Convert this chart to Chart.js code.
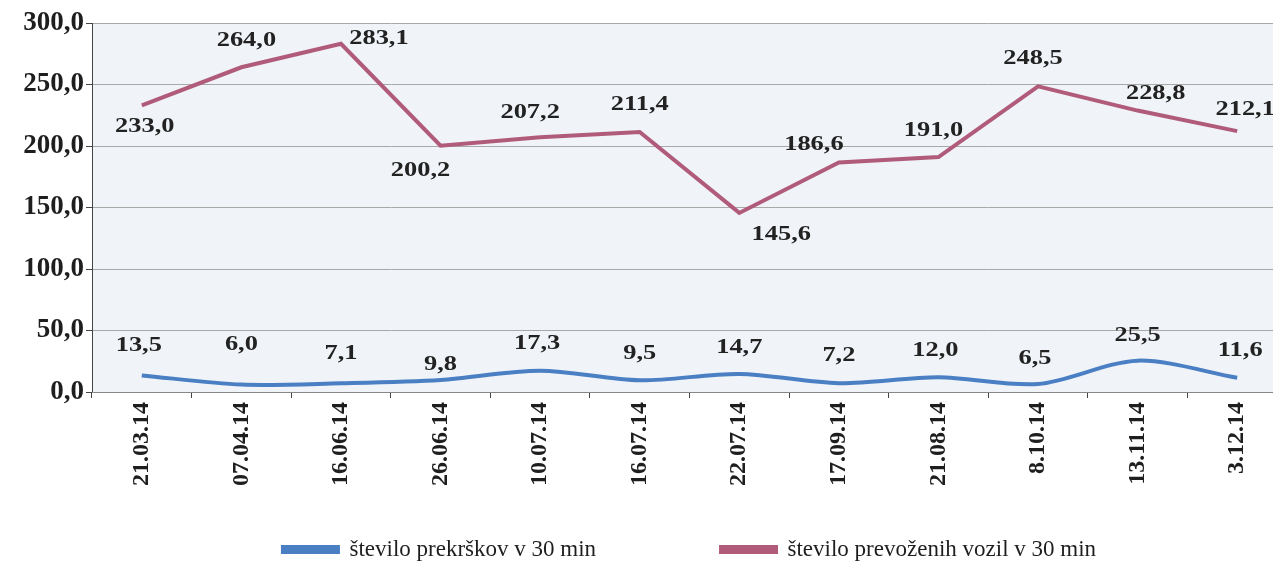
<!DOCTYPE html>
<html>
<head>
<meta charset="utf-8">
<script src="https://cdn.jsdelivr.net/npm/chart.js@4.4.0/dist/chart.umd.min.js"></script>
<style>
    html, body { margin: 0; padding: 0; background: #fff; overflow: hidden; }
    #wrap { width: 1290px; height: 571px; }
</style>
</head>
<body>
<div id="wrap"><canvas id="graf"></canvas></div>
<script>
const datumi = ['21.03.14', '07.04.14', '16.06.14', '26.06.14', '10.07.14', '16.07.14',
                '22.07.14', '17.09.14', '21.08.14', '8.10.14', '13.11.14', '3.12.14'];
const prekrski = [13.5, 6.0, 7.1, 9.8, 17.3, 9.5, 14.7, 7.2, 12.0, 6.5, 25.5, 11.6];
const vozila = [233.0, 264.0, 283.1, 200.2, 207.2, 211.4, 145.6, 186.6, 191.0, 248.5, 228.8, 212.1];
const yOznake = [0, 50, 100, 150, 200, 250, 300];

// zamiki napisov vrednosti (px) - samo postavitev
const zamikPrekrski = [[-3, -30], [0, -40], [0, -30], [0, -16], [-3, -27], [0, -27],
                       [0, -27], [0, -28], [-3, -27], [-3, -26], [0, -25], [3, -27]];
const zamikVozila = [[3, 21], [5, -27], [38, -5], [-20, 25], [-10, -25], [0, -28],
                     [42, 21], [-25, -18], [-5, -27], [-5, -28], [18, -17], [8, -22]];

const fmt = v => v.toFixed(1).replace('.', ',');

const ozadje = {
    id: 'ozadje',
    beforeDraw(chart) {
        const a = chart.chartArea;
        const ctx = chart.ctx;
        ctx.save();
        ctx.fillStyle = '#f0f3f8';
        ctx.fillRect(a.left, a.top, a.right - a.left, a.bottom - a.top);
        ctx.restore();
    }
};

// napisi vrednosti, rahlo razsirjeni kot v predlogi
const etikete = {
    id: 'etikete',
    afterDatasetsDraw(chart) {
        const ctx = chart.ctx;
        ctx.save();
        ctx.font = 'bold 22px "Liberation Serif"';
        ctx.fillStyle = '#222';
        ctx.textAlign = 'center';
        ctx.textBaseline = 'middle';
        chart.data.datasets.forEach((ds, i) => {
            const meta = chart.getDatasetMeta(i);
            meta.data.forEach((pt, j) => {
                const z = ds.zamiki[j];
                ctx.save();
                ctx.translate(pt.x + z[0], pt.y + z[1]);
                ctx.scale(1.2, 1);
                ctx.fillText(fmt(ds.data[j]), 0, 0);
                ctx.restore();
            });
        });
        ctx.restore();
    }
};

const ctx = document.getElementById('graf').getContext('2d');
new Chart(ctx, {
    type: 'line',
    data: {
        labels: datumi,
        datasets: [{
            label: 'število prekrškov v 30 min',
            data: prekrski,
            zamiki: zamikPrekrski,
            borderColor: '#4a7fc4',
            backgroundColor: '#4a7fc4',
            borderWidth: 4,
            pointRadius: 0,
            tension: 0.3
        }, {
            label: 'število prevoženih vozil v 30 min',
            data: vozila,
            zamiki: zamikVozila,
            borderColor: '#b15b7b',
            backgroundColor: '#b15b7b',
            borderWidth: 4,
            pointRadius: 0,
            tension: 0
        }]
    },
    options: {
        responsive: true,
        maintainAspectRatio: false,
        animation: false,
        layout: { padding: { top: 23, left: 0, right: 3, bottom: 0 } },
        plugins: {
            tooltip: { enabled: false },
            legend: {
                position: 'bottom',
                fullSize: false,
                labels: {
                    boxWidth: 55,
                    boxHeight: 5,
                    padding: 10,
                    color: '#1e1e1e',
                    font: { family: '"Liberation Serif"', size: 23 },
                    generateLabels(chart) {
                        const items = Chart.defaults.plugins.legend.labels.generateLabels(chart);
                        // vecji razmik med elementoma legende
                        items.forEach((it, i) => {
                            if (i < items.length - 1) it.text += '\u2002'.repeat(10);
                        });
                        return items;
                    }
                }
            }
        },
        scales: {
            y: {
                min: 0,
                max: 300,
                afterBuildTicks: s => { s.ticks = yOznake.map(v => ({ value: v })); },
                afterFit: s => { s.width = 92; },
                ticks: {
                    color: '#1e1e1e',
                    padding: 2,
                    font: { family: '"Liberation Serif"', size: 27, weight: 'bold' },
                    callback: v => fmt(v)
                },
                grid: { color: '#a8a8a8', tickLength: 6, tickColor: '#444' },
                border: { color: '#444' }
            },
            x: {
                offset: true,
                afterFit: s => { s.height = 136; },
                ticks: {
                    minRotation: 90,
                    maxRotation: 90,
                    autoSkip: false,
                    padding: 4,
                    color: '#1e1e1e',
                    font: { family: '"Liberation Serif"', size: 24, weight: 'bold' }
                },
                grid: { offset: true, drawOnChartArea: false, tickLength: 6, tickColor: '#444' },
                border: { color: '#888' }
            }
        }
    },
    plugins: [ozadje, etikete]
});
</script>
</body>
</html>
